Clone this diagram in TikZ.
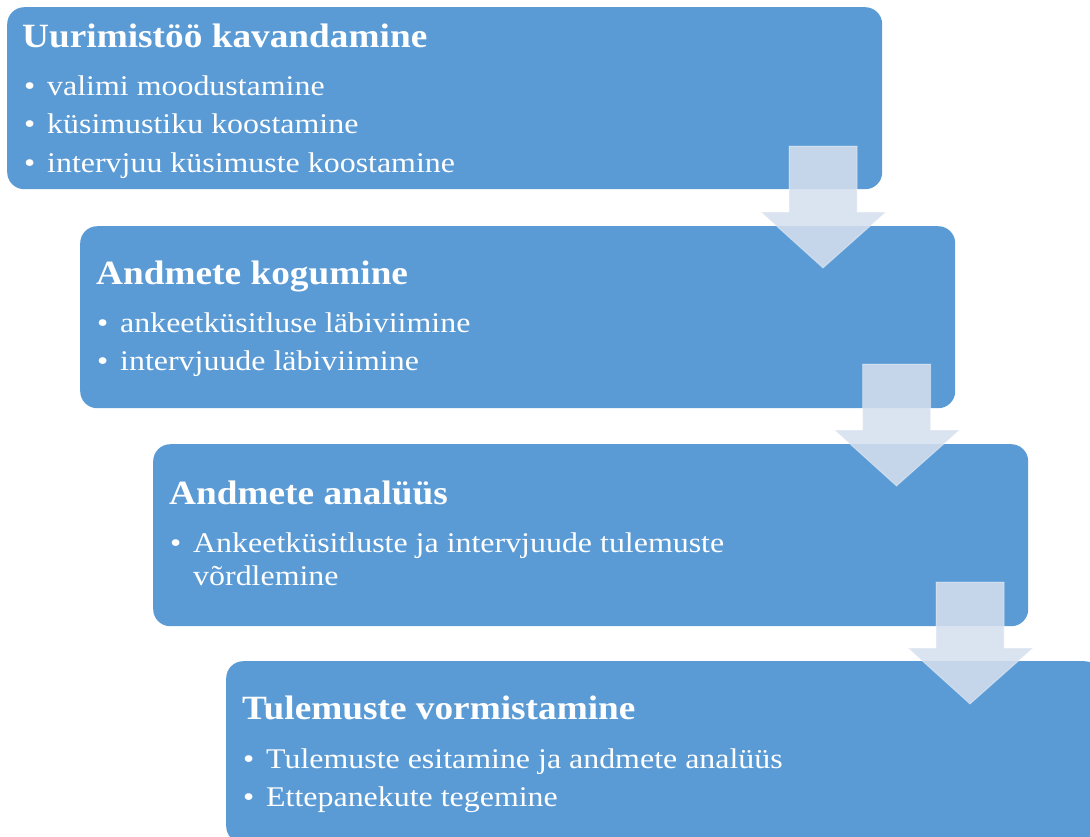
\documentclass[tikz,border=0pt]{standalone}
\usepackage{fontspec}
\setmainfont{Liberation Serif}
\newfontfamily\titlefont[FakeStretch=1.097]{Liberation Serif}
\newfontfamily\itemfont[FakeStretch=1.12]{Liberation Serif}
\definecolor{boxblue}{RGB}{91,155,213}
\definecolor{arrowfill}{RGB}{213,223,238}
\begin{document}
\begin{tikzpicture}[x=1pt,y=-1pt,
  stagebox/.style={draw=none,fill=boxblue,rounded corners=17pt,minimum width=875pt,minimum height=182pt,inner sep=0pt,anchor=north west},
  titletext/.style={anchor=base west,inner sep=0pt,text=white,font=\titlefont\bfseries\fontsize{34}{40}\selectfont},
  itemtext/.style={anchor=base west,inner sep=0pt,text=white,font=\itemfont\fontsize{28.5}{32}\selectfont},
  downarrow/.style={fill=arrowfill,fill opacity=0.88,draw=white,draw opacity=0.35,line width=1pt,line join=miter}]
\useasboundingbox (0,0) rectangle (1090,836);
\clip (0,0) rectangle (1090,836);
% boxes
\node[stagebox] (b1) at (7,7) {};
\node[stagebox] (b2) at (80,226) {};
\node[stagebox] (b3) at (153,444) {};
\node[stagebox] (b4) at (226,661) {};
% texts box 1
\node[titletext] (t1) at (22,47) {Uurimistöö kavandamine};
\node[itemtext] (d1a) at (24,95) {•};
\node[itemtext] (i1a) at (47,95) {valimi moodustamine};
\node[itemtext] (d1b) at (24,133.5) {•};
\node[itemtext] (i1b) at (47,133.5) {küsimustiku koostamine};
\node[itemtext] (d1c) at (24,172) {•};
\node[itemtext] (i1c) at (47,172) {intervjuu küsimuste koostamine};
% texts box 2
\node[titletext] (t2) at (96,284) {Andmete kogumine};
\node[itemtext] (d2a) at (97,332) {•};
\node[itemtext] (i2a) at (120,332) {ankeetküsitluse läbiviimine};
\node[itemtext] (d2b) at (97,370) {•};
\node[itemtext] (i2b) at (120,370) {intervjuude läbiviimine};
% texts box 3
\node[titletext] (t3) at (169,504) {Andmete analüüs};
\node[itemtext] (d3a) at (170,552) {•};
\node[itemtext] (i3a) at (193,552) {Ankeetküsitluste ja intervjuude tulemuste};
\node[itemtext] (i3b) at (193,585) {võrdlemine};
% texts box 4
\node[titletext] (t4) at (242,719) {Tulemuste vormistamine};
\node[itemtext] (d4a) at (243,768) {•};
\node[itemtext] (i4a) at (266,768) {Tulemuste esitamine ja andmete analüüs};
\node[itemtext] (d4b) at (243,806) {•};
\node[itemtext] (i4b) at (266,806) {Ettepanekute tegemine};
% arrows
\foreach \k in {0,1,2}{
  \begin{scope}[shift={(73.5*\k,218*\k)}]
    \path[downarrow] (789,146) -- (857,146) -- (857,212) -- (886,212) -- (823,268) -- (761,212) -- (789,212) -- cycle;
  \end{scope}
}
\end{tikzpicture}
\end{document}
